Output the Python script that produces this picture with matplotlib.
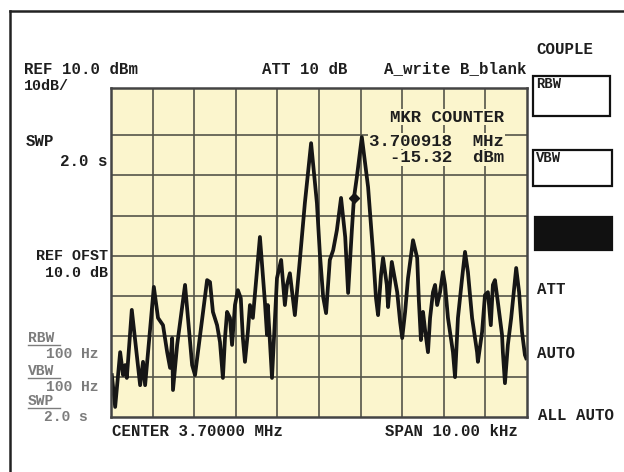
import matplotlib
matplotlib.use("Agg")
import matplotlib.pyplot as plt
from matplotlib.lines import Line2D
from matplotlib.patches import Rectangle

# --- trace: offset from 3.70000 MHz (kHz) and level (dBm) ---
freq_khz = [
    -4.98, -4.90, -4.78, -4.71, -4.66, -4.62, -4.50, -4.30, -4.23, -4.18,
    -3.97, -3.87, -3.75, -3.65, -3.58, -3.53, -3.51, -3.41, -3.22, -3.05,
    -2.98, -2.69, -2.62, -2.55, -2.45, -2.38, -2.31, -2.26, -2.21, -2.14,
    -2.09, -2.02, -1.95, -1.88, -1.83, -1.78, -1.71, -1.66, -1.59, -1.42,
    -1.30, -1.25, -1.23, -1.13, -1.01, -0.91, -0.82, -0.77, -0.70, -0.58,
    -0.46, -0.34, -0.19, -0.05, 0.02, 0.10, 0.17, 0.26, 0.34, 0.43,
    0.53, 0.63, 0.70, 0.79, 0.84, 0.91, 1.03, 1.18, 1.30, 1.37,
    1.42, 1.49, 1.54, 1.63, 1.66, 1.75, 1.88, 1.95, 2.00, 2.07,
    2.14, 2.26, 2.36, 2.40, 2.45, 2.50, 2.55, 2.62, 2.67, 2.74,
    2.79, 2.84, 2.91, 2.98, 3.03, 3.10, 3.22, 3.27, 3.34, 3.44,
    3.51, 3.58, 3.68, 3.80, 3.82, 3.92, 3.99, 4.06, 4.13, 4.18,
    4.23, 4.30, 4.40, 4.42, 4.47, 4.54, 4.62, 4.74, 4.81, 4.88,
    4.95, 4.98]
level_dbm = [
    -59.6, -67.5, -53.9, -59.6, -57.1, -60.3, -43.4, -62.1, -56.3, -62.1,
    -37.7, -45.4, -47.2, -53.9, -57.8, -50.4, -63.3, -52.1, -37.2, -57.1,
    -59.6, -36.0, -36.5, -43.9, -47.2, -51.4, -60.3, -50.4, -43.9, -45.4,
    -52.1, -42.2, -38.5, -40.5, -50.4, -56.3, -48.9, -42.2, -45.4, -25.3,
    -41.5, -49.6, -42.2, -60.3, -35.5, -31.0, -42.2, -37.2, -34.3, -44.7,
    -31.0, -16.9, -2.0, -16.9, -29.3, -40.2, -44.2, -31.0, -28.6, -23.6,
    -15.6, -25.3, -39.2, -23.6, -15.6, -10.4, -0.5, -12.9, -29.3, -40.5,
    -44.7, -34.8, -30.5, -37.2, -42.7, -31.5, -39.0, -46.4, -50.4, -43.9,
    -35.5, -26.1, -30.5, -41.0, -50.9, -43.9, -48.4, -53.9, -45.4, -39.0,
    -37.2, -42.2, -39.0, -34.0, -37.2, -45.4, -53.9, -60.1, -45.4, -35.5,
    -29.0, -34.0, -45.4, -53.9, -56.3, -48.9, -39.7, -39.0, -47.2, -37.2,
    -36.0, -41.5, -49.6, -53.9, -61.6, -52.1, -45.4, -33.0, -39.0, -48.9,
    -54.6, -55.4]

mkr_khz = 0.84
mkr_dbm = -15.6

x_grid = [-4, -3, -2, -1, 0, 1, 2, 3, 4]
y_grid = [0, -10, -20, -30, -40, -50, -60]

W, H = 624, 472
MONO = "Liberation Mono"
BG = "#fbf5cd"

fig = plt.figure(figsize=(W / 100, H / 100), dpi=100)
fig.patch.set_facecolor("white")

ax = fig.add_axes([111 / W, 1 - 417 / H, 416 / W, 329 / H])
ax.set_facecolor(BG)
ax.set_xlim(-5, 5)
ax.set_ylim(-70, 11.7)
ax.set_xticks(x_grid)
ax.set_yticks(y_grid)
ax.grid(True, color="#55554a", linewidth=1.2)
ax.tick_params(length=0, labelbottom=False, labelleft=False)
for sp in ax.spines.values():
    sp.set_color("#444444")
    sp.set_linewidth(1.8)

ax.plot(freq_khz, level_dbm, color="#161616", linewidth=2.7, solid_joinstyle="round")
ax.plot([mkr_khz], [mkr_dbm], marker="D", color="#161616", markersize=5)


def txt(x, y, s, ha="left", size=11.3, color="#1e1e1e", **kw):
    return fig.text(x / W, 1 - y / H, s, ha=ha, va="center", family=MONO,
                    fontweight="bold", fontsize=size, color=color, **kw)


def box(x0, y0, x1, y1, fill=False, lw=1.6):
    fig.add_artist(Rectangle((x0 / W, 1 - y1 / H), (x1 - x0) / W, (y1 - y0) / H,
                             transform=fig.transFigure, fill=fill,
                             facecolor="#111111", edgecolor="#111111", linewidth=lw))


# outer frame (left and top only)
fig.add_artist(Line2D([9.5 / W, 9.5 / W], [0, 1 - 11 / H], transform=fig.transFigure,
                      color="#222222", linewidth=1.8))
fig.add_artist(Line2D([9.5 / W, 1], [1 - 11 / H, 1 - 11 / H], transform=fig.transFigure,
                      color="#222222", linewidth=1.8))

# header line
txt(24, 69, "REF 10.0 dBm")
txt(24, 86, "10dB/", size=10.8)
txt(262, 69, "ATT 10 dB")
txt(384, 69, "A_write B_blank")

# left column
txt(26, 141, "SWP")
txt(107, 162, "2.0 s", ha="right")
txt(108, 256, "REF OFST", ha="right", size=10.8)
txt(108, 273, "10.0 dB", ha="right", size=10.8)

gray = "#7c7c7c"
for yy, lab, val in [(338, "RBW", "100 Hz"), (371, "VBW", "100 Hz"), (401, "SWP", "2.0 s")]:
    txt(28, yy, lab, color=gray, size=10.5)
    fig.add_artist(Line2D([28 / W, 60 / W], [1 - (yy + 7) / H] * 2, transform=fig.transFigure,
                          color=gray, linewidth=1.0))
    txt(98 if val.endswith("Hz") else 88, yy + 16, val, ha="right", color=gray, size=10.5)

# bottom line
txt(112, 432, "CENTER 3.70000 MHz")
txt(518, 432, "SPAN 10.00 kHz", ha="right")

# marker readout
mk = dict(ha="right", size=12.5, bbox=dict(facecolor=BG, edgecolor="none", pad=0.5))
txt(504, 117, "MKR COUNTER", **mk)
txt(504, 141, "3.700918  MHz", **mk)
txt(504, 158, "-15.32  dBm", **mk)

# soft-key panel
txt(536, 49, "COUPLE")
box(533, 76, 610, 116)
txt(536, 84, "RBW", size=10)
box(533, 150, 612, 186)
txt(536, 158, "VBW", size=10)
box(535, 217, 612, 250, fill=True)
txt(537, 290, "ATT")
txt(537, 353, "AUTO")
txt(538, 416, "ALL AUTO")

fig.savefig("out.png", dpi=100)
